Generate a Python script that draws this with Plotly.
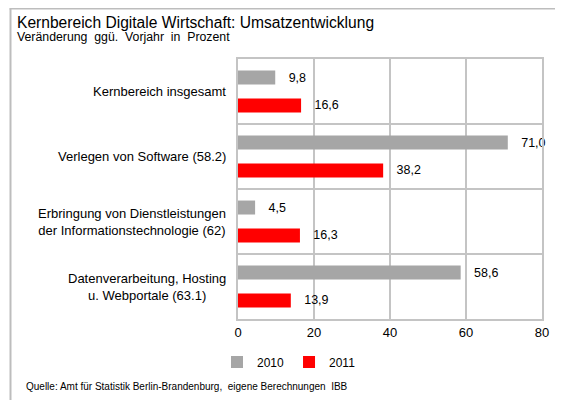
import plotly.graph_objects as go

categories = [
    "Kernbereich insgesamt",
    "Verlegen von Software (58.2)",
    "Erbringung von Dienstleistungen<br>der Informationstechnologie (62)",
    "Datenverarbeitung, Hosting<br>u. Webportale (63.1)",
]
values_2010 = [9.8, 71.0, 4.5, 58.6]
values_2011 = [16.6, 38.2, 16.3, 13.9]
series_names = ["2010", "2011"]
x_ticks = [0, 20, 40, 60, 80]

FONT = "Liberation Sans, Arial, sans-serif"
GRID = "#c4c4c4"

def de(v):
    return f"{v:.1f}".replace(".", ",")

fig = go.Figure()
fig.add_trace(go.Bar(
    y=categories, x=values_2010, orientation="h", name=series_names[0],
    marker=dict(color="#a6a6a6", line=dict(width=0)),
    text=["   " + de(v) for v in values_2010], textposition="outside",
    textfont=dict(size=12.5, color="#000000", family=FONT), cliponaxis=False,
))
fig.add_trace(go.Bar(
    y=categories, x=values_2011, orientation="h", name=series_names[1],
    marker=dict(color="#ff0000", line=dict(width=0)),
    text=["   " + de(v) for v in values_2011], textposition="outside",
    textfont=dict(size=12.5, color="#000000", family=FONT), cliponaxis=False,
))

# page is rendered with an 8px body margin; work in page coordinates
OFF = 8
W, H = 563 - OFF, 401 - OFF
L, R, T, B = 238 - OFF, 21, 59 - OFF, 82
pw, ph = W - L - R, H - T - B

def px(x):
    return (x - OFF - L) / pw

def py(y):
    return 1 - (y - OFF - T) / ph

annotations = [
    dict(text="Kernbereich Digitale Wirtschaft: Umsatzentwicklung", x=px(15), y=py(22),
         xref="paper", yref="paper", xanchor="left", yanchor="middle", showarrow=False,
         font=dict(size=15.6, family=FONT, color="#000")),
    dict(text="Veränderung  ggü.  Vorjahr  in  Prozent", x=px(15), y=py(37),
         xref="paper", yref="paper", xanchor="left", yanchor="middle", showarrow=False,
         font=dict(size=12.3, family=FONT, color="#000")),
    dict(text="Quelle: Amt für Statistik Berlin-Brandenburg,  eigene Berechnungen  IBB",
         x=px(24), y=py(386), xref="paper", yref="paper", xanchor="left", yanchor="middle",
         showarrow=False, font=dict(size=10, family=FONT, color="#000")),
]
for c in categories:
    annotations.append(dict(text=c, x=0, y=c, xref="paper", yref="y", xanchor="right",
                            yanchor="middle", align="center", xshift=-10, showarrow=False,
                            font=dict(size=13, family=FONT, color="#000")))

shapes = [
    dict(type="line", xref="paper", yref="paper", x0=px(10.5), x1=px(10.5), y0=py(400), y1=py(8.5),
         line=dict(color="#bdbdbd", width=2), layer="above"),
    dict(type="line", xref="paper", yref="paper", x0=px(9.5), x1=px(563), y0=py(8.5), y1=py(8.5),
         line=dict(color="#bdbdbd", width=2), layer="above"),
]

fig.update_layout(
    width=W, height=H,
    margin=dict(l=L, r=R, t=T, b=B, autoexpand=False),
    paper_bgcolor="white", plot_bgcolor="white",
    barmode="group", bargap=0.14, bargroupgap=0.5,
    font=dict(family=FONT, size=12, color="#000"),
    annotations=annotations, shapes=shapes,
    legend=dict(orientation="h", x=px(289), y=py(362), xanchor="center", yanchor="middle",
                font=dict(size=12, family=FONT), itemwidth=30, traceorder="normal",
                bgcolor="rgba(0,0,0,0)"),
    xaxis=dict(range=[0, 80], tickvals=x_ticks, showgrid=True, gridcolor=GRID, gridwidth=2,
               showline=True, linecolor=GRID, linewidth=2, mirror=True, zeroline=False,
               ticks="", tickfont=dict(size=13, family=FONT)),
    yaxis=dict(autorange="reversed", type="category", tickson="boundaries", showgrid=True,
               gridcolor=GRID, gridwidth=2, showticklabels=False, ticks="",
               showline=True, linecolor=GRID, linewidth=2, mirror=True),
)

fig.write_html("out.html")
